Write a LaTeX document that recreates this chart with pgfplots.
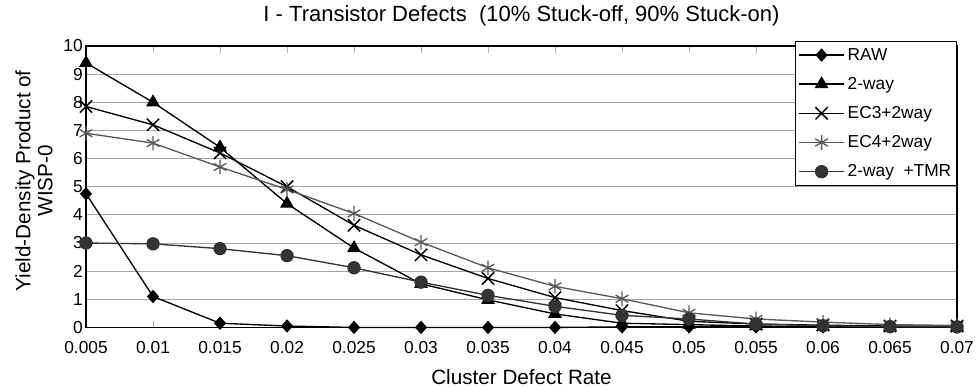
\documentclass[border=0pt]{standalone}
\usepackage{pgfplots}
\pgfplotsset{compat=1.18}
\usepackage{fontspec}
\setmainfont{Liberation Sans}
\definecolor{dg}{gray}{0.2}
\definecolor{mg}{gray}{0.35}
\begin{document}
\begin{tikzpicture}
\begin{axis}[
  name=ax,
  scale only axis,
  width=653pt, height=211pt,
  xmin=0.005, xmax=0.07, ymin=0, ymax=10,
  scaled x ticks=false,
  xtick={0.005,0.01,0.015,0.02,0.025,0.03,0.035,0.04,0.045,0.05,0.055,0.06,0.065,0.07},
  xticklabels={0.005,0.01,0.015,0.02,0.025,0.03,0.035,0.04,0.045,0.05,0.055,0.06,0.065,0.07},
  ytick={0,1,...,10},
  /pgf/number format/assume math mode=true,
  ymajorgrids, grid style={gray!70, line width=0.6pt},
  axis line style={black, line width=1pt},
  xtick style={gray!60, line width=0.6pt}, 
  ytick style={draw=none},
  tick align=inside,
  major tick length=5pt,
  tick label style={font=\fontsize{13pt}{15pt}\selectfont},
  xticklabel style={yshift=-7pt},
  yticklabel style={xshift=1pt},
  clip=false,
  legend style={at={(1,1)}, anchor=north east, yshift=3.75pt,
    draw=black, line width=0.6pt, fill=white,
    font=\fontsize{13pt}{15pt}\selectfont,
    row sep=7.3pt, inner xsep=2pt, inner ysep=3pt,
    cells={anchor=west}},
  legend image code/.code={%
    \draw[mark repeat=2,mark phase=2,#1]
      plot coordinates {(0cm,0cm) (0.6cm,0cm) (1.2cm,0cm)};},
]
\addplot[black, line width=1pt, mark=diamond*, mark size=4.3pt, mark options={xscale=1.2}] coordinates {
(0.005,4.75) (0.01,1.1) (0.015,0.15) (0.02,0.05) (0.025,0.0) (0.03,0.0) (0.035,0.0) (0.04,0.0)
(0.045,0.02) (0.05,0.02) (0.055,0.02) (0.06,0.02) (0.065,0.02) (0.07,0.02)};
\addlegendentry{RAW}
\addplot[black, line width=1pt, mark=triangle*, mark size=5pt] coordinates {
(0.005,9.4) (0.01,8.0) (0.015,6.4) (0.02,4.4) (0.025,2.82) (0.03,1.55) (0.035,0.98) (0.04,0.48)
(0.045,0.15) (0.05,0.1) (0.055,0.05) (0.06,0.03) (0.065,0.02) (0.07,0.02)};
\addlegendentry{2-way}
\addplot[black, line width=1pt, mark=x, mark size=6.5pt, mark options={line width=1.1pt}] coordinates {
(0.005,7.85) (0.01,7.2) (0.015,6.2) (0.02,5.0) (0.025,3.63) (0.03,2.58) (0.035,1.74) (0.04,1.06)
(0.045,0.6) (0.05,0.22) (0.055,0.12) (0.06,0.08) (0.065,0.05) (0.07,0.05)};
\addlegendentry{EC3+2way}
\addplot[mg, line width=1pt, mark=asterisk, mark size=5.5pt, mark options={line width=1pt}] coordinates {
(0.005,6.9) (0.01,6.55) (0.015,5.7) (0.02,4.9) (0.025,4.05) (0.03,3.03) (0.035,2.12) (0.04,1.46)
(0.045,1.02) (0.05,0.52) (0.055,0.3) (0.06,0.19) (0.065,0.1) (0.07,0.07)};
\addlegendentry{EC4+2way}
\addplot[dg, line width=1pt, mark=*, mark size=4.5pt] coordinates {
(0.005,3.0) (0.01,2.97) (0.015,2.8) (0.02,2.55) (0.025,2.12) (0.03,1.61) (0.035,1.14) (0.04,0.75)
(0.045,0.43) (0.05,0.3) (0.055,0.12) (0.06,0.06) (0.065,0.03) (0.07,0.02)};
\addlegendentry{2-way \ +TMR}
\node[font=\fontsize{16.5pt}{18pt}\selectfont] at ([yshift=23pt]rel axis cs:0.5,1) {I - Transistor Defects \ (10\% Stuck-off, 90\% Stuck-on)};
\node[font=\fontsize{15.5pt}{17pt}\selectfont] at ([yshift=-37pt]rel axis cs:0.5,0) {Cluster Defect Rate};
\node[font=\fontsize{15.5pt}{16.5pt}\selectfont, rotate=90, align=center] at ([xshift=-39pt,yshift=4.5pt]rel axis cs:0,0.5) {Yield-Density Product of\\WISP-0};
\end{axis}
\pgfresetboundingbox
\path[use as bounding box] ([xshift=-64.5pt,yshift=-45pt]ax.south west) rectangle ([xshift=14.25pt,yshift=34.5pt]ax.north east);
\end{tikzpicture}
\end{document}
